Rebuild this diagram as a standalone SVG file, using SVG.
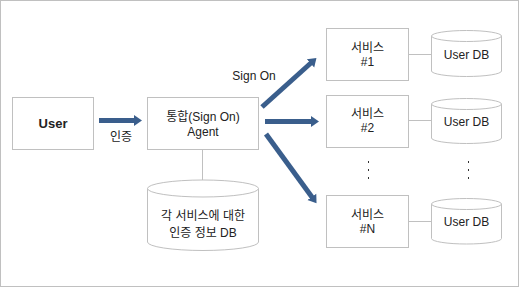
<svg xmlns="http://www.w3.org/2000/svg" width="520" height="288" viewBox="0 0 520 288">
<defs>
<style>
.box{fill:#fff;stroke:#c0c0c0;stroke-width:1}
.ln{stroke:#c0c0c0;stroke-width:1;fill:none}
.cyl{fill:#fff;stroke:#c0c0c0;stroke-width:1}
.t{font-family:"Liberation Sans","Noto Sans CJK KR",sans-serif;font-size:12px;fill:#222;text-anchor:middle}
.b{font-weight:bold;font-size:13px}
.arr{stroke:#3a5e8c;stroke-width:5;fill:none}
.dot{fill:#333}
</style>
<marker id="ah" markerUnits="userSpaceOnUse" markerWidth="12" markerHeight="14" refX="2" refY="7" orient="auto">
<path d="M0,1.5 L8,7 L0,12.5 Z" fill="#3a5e8c"/>
</marker>
</defs>
<rect x="0.5" y="0.5" width="518" height="286" fill="#fff" stroke="#c0c0c0"/>
<g id="connectors">
<line class="arr" x1="99" y1="120.5" x2="136" y2="120.5" marker-end="url(#ah)"/>
<line class="arr" x1="262" y1="107" x2="312" y2="62" marker-end="url(#ah)"/>
<line class="arr" x1="265" y1="121.5" x2="313" y2="121.5" marker-end="url(#ah)"/>
<line class="arr" x1="266" y1="134" x2="313" y2="198.5" marker-end="url(#ah)"/>
<line class="ln" x1="202.5" y1="149.5" x2="202.5" y2="181"/>
<line class="ln" x1="408.5" y1="54.5" x2="431.5" y2="54.5"/>
<line class="ln" x1="408.5" y1="120.5" x2="431.5" y2="120.5"/>
<line class="ln" x1="408.5" y1="221.5" x2="431.5" y2="221.5"/>
<text class="t" x="121" y="141">인증</text>
<text class="t" x="254" y="80">Sign On</text>
</g>
<g id="user">
<rect class="box" x="12.5" y="97.5" width="81" height="52"/>
<text class="t b" x="53" y="128">User</text>
</g>
<g id="agent">
<rect class="box" x="147.5" y="97.5" width="111" height="52"/>
<text class="t" x="203" y="121">통합(Sign On)</text>
<text class="t" x="203" y="136">Agent</text>
</g>
<g id="authdb">
<path class="cyl" d="M147.5,188.5 L147.5,242 A55.5,8.5 0 0 0 258.5,242 L258.5,188.5"/>
<ellipse class="cyl" cx="203" cy="188.5" rx="55.5" ry="8.5"/>
<text class="t" x="203" y="220">각 서비스에 대한</text>
<text class="t" x="203" y="237">인증 정보 DB</text>
</g>
<g id="svc1">
<rect class="box" x="326.5" y="28.5" width="82" height="52"/>
<text class="t" x="367.5" y="52">서비스</text>
<text class="t" x="367.5" y="66">#1</text>
</g>
<g id="svc2">
<rect class="box" x="326.5" y="95.5" width="82" height="52"/>
<text class="t" x="367.5" y="118">서비스</text>
<text class="t" x="367.5" y="132">#2</text>
</g>
<g id="svcN">
<rect class="box" x="326.5" y="195.5" width="82" height="52"/>
<text class="t" x="367.5" y="219">서비스</text>
<text class="t" x="367.5" y="233">#N</text>
</g>
<g id="db1">
<path class="cyl" d="M431.5,36 L431.5,71 A35,5.5 0 0 0 501.5,71 L501.5,36"/>
<ellipse class="cyl" cx="466.5" cy="36" rx="35" ry="5.5"/>
<text class="t" x="466.5" y="58.5">User DB</text>
</g>
<g id="db2">
<path class="cyl" d="M431.5,104 L431.5,138 A35,5.5 0 0 0 501.5,138 L501.5,104"/>
<ellipse class="cyl" cx="466.5" cy="104" rx="35" ry="5.5"/>
<text class="t" x="466.5" y="126">User DB</text>
</g>
<g id="dbN">
<path class="cyl" d="M431.5,204 L431.5,238.5 A35,5.5 0 0 0 501.5,238.5 L501.5,204"/>
<ellipse class="cyl" cx="466.5" cy="204" rx="35" ry="5.5"/>
<text class="t" x="466.5" y="226">User DB</text>
</g>
<g id="ellipsis">
<rect class="dot" x="368" y="161" width="1" height="2"/>
<rect class="dot" x="368" y="169" width="1" height="2"/>
<rect class="dot" x="368" y="177" width="1" height="2"/>
<rect class="dot" x="468" y="161" width="1" height="2"/>
<rect class="dot" x="468" y="169" width="1" height="2"/>
<rect class="dot" x="468" y="177" width="1" height="2"/>
</g>
</svg>
